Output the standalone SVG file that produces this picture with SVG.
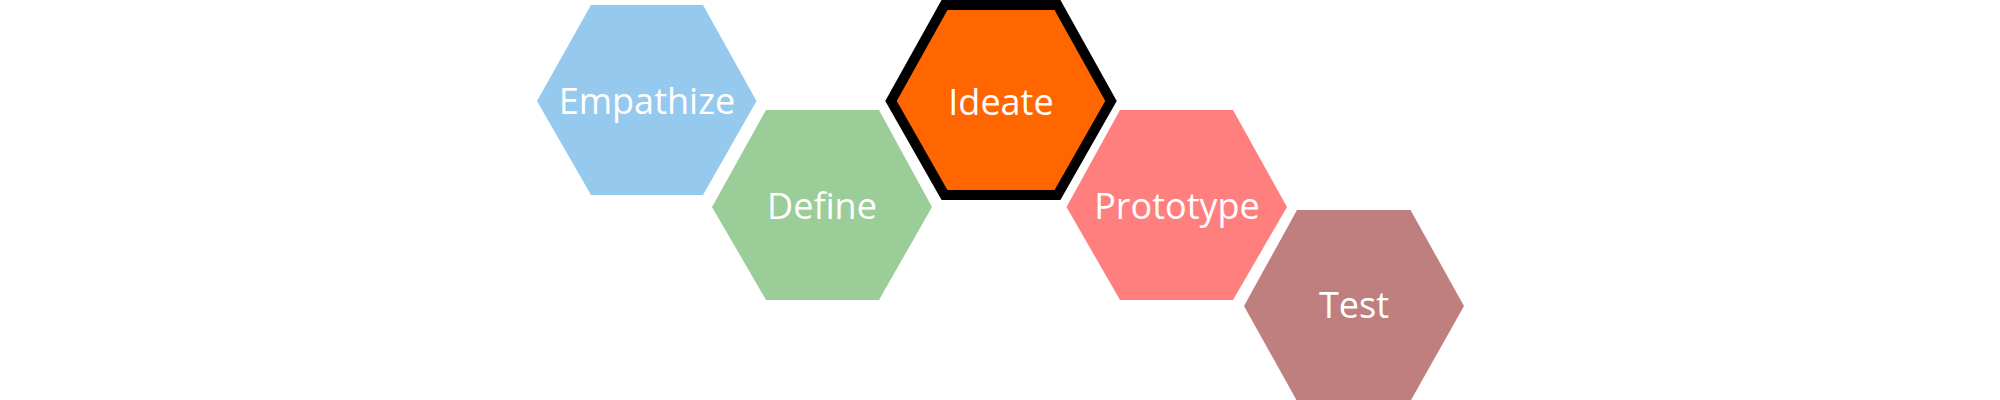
<svg xmlns="http://www.w3.org/2000/svg" width="2000" height="400" viewBox="0 0 2000 400">
  <style>
    .lbl { font-family: "Open Sans", "Noto Sans", "Liberation Sans", sans-serif; font-size: 36px; fill: #ffffff; text-anchor: middle; }
  </style>
  <rect x="0" y="0" width="2000" height="400" fill="#ffffff"/>
  <g id="connectors"></g>
  <g id="empathize">
    <polygon points="537,101 591,5 703,5 756.5,101 703,195 591,195" fill="#95C9EE"/>
    <text class="lbl" x="647" y="114">Empathize</text>
  </g>
  <g id="define">
    <polygon points="712,207 766,110 879,110 932,207 879,300 766,300" fill="#9BCD99"/>
    <text class="lbl" x="822" y="219">Define</text>
  </g>
  <g id="ideate">
    <polygon points="891,101 944.5,5 1057.5,5 1111,101 1057.5,195 944.5,195" fill="#FF6600" stroke="#000000" stroke-width="10" stroke-linejoin="miter"/>
    <text class="lbl" x="1001" y="115">Ideate</text>
  </g>
  <g id="prototype">
    <polygon points="1066.5,207 1120,110 1233,110 1287,207 1233,300 1120,300" fill="#FF7F7F"/>
    <text class="lbl" x="1177" y="219">Prototype</text>
  </g>
  <g id="test">
    <polygon points="1244,306 1297,210 1410.5,210 1464,306 1410.5,401 1297,401" fill="#BF7F7F"/>
    <text class="lbl" x="1354" y="318">Test</text>
  </g>
</svg>
